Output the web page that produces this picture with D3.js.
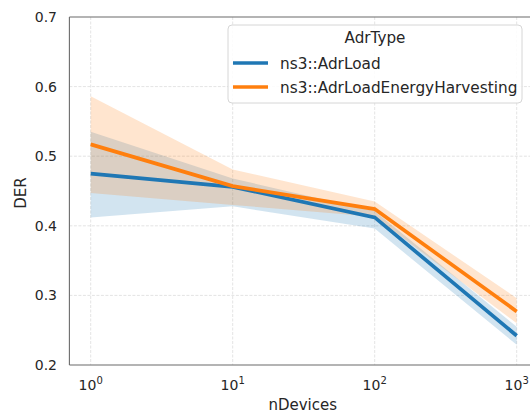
<!DOCTYPE html>
<html>
<head>
<meta charset="utf-8">
<script src="https://cdn.jsdelivr.net/npm/d3@7"></script>
<style>
  body { margin: 0; background: #fff; }
  svg { display: block; font-family: "DejaVu Sans", sans-serif; }
</style>
</head>
<body>
<svg id="chart" width="530" height="414"></svg>
<script>
// data
const nDevices = [1, 10, 100, 1000];
const seriesNames = ["ns3::AdrLoad", "ns3::AdrLoadEnergyHarvesting"];
const adrLoadMean = [0.475, 0.456, 0.412, 0.242];
const adrLoadLow  = [0.412, 0.428, 0.396, 0.229];
const adrLoadHigh = [0.535, 0.468, 0.421, 0.255];
const adrEhMean = [0.517, 0.457, 0.424, 0.277];
const adrEhLow  = [0.447, 0.430, 0.413, 0.260];
const adrEhHigh = [0.586, 0.481, 0.435, 0.296];
const yTicks = [0.2, 0.3, 0.4, 0.5, 0.6, 0.7];
const xTicks = [1, 10, 100, 1000];
const colors = ["#1f77b4", "#ff7f0e"];

// dimensions
const plot = {left: 69.4, right: 538, top: 17, bottom: 365};

const svg = d3.select("#chart");

const x = d3.scaleLog()
  .domain([Math.pow(10, -0.15), Math.pow(10, 3.15)])
  .range([plot.left, plot.right]);
const y = d3.scaleLinear()
  .domain([0.2, 0.7])
  .range([plot.bottom, plot.top]);

svg.append("defs").append("clipPath").attr("id", "clip")
  .append("rect")
  .attr("x", plot.left).attr("y", plot.top)
  .attr("width", plot.right - plot.left).attr("height", plot.bottom - plot.top);

// grid
const grid = svg.append("g").attr("stroke", "#dcdcdc").attr("stroke-width", 0.8)
  .attr("stroke-dasharray", "3,1.5");
grid.selectAll(".gy").data(yTicks.slice(1, -1)).join("line")
  .attr("x1", plot.left).attr("x2", plot.right)
  .attr("y1", d => y(d)).attr("y2", d => y(d));
grid.selectAll(".gx").data(xTicks).join("line")
  .attr("y1", plot.top).attr("y2", plot.bottom)
  .attr("x1", d => x(d)).attr("x2", d => x(d));

// bands + lines
const series = [
  {mean: adrLoadMean, low: adrLoadLow, high: adrLoadHigh},
  {mean: adrEhMean, low: adrEhLow, high: adrEhHigh}
];
const area = d3.area()
  .x(d => x(d.n)).y0(d => y(d.lo)).y1(d => y(d.hi));
const line = d3.line()
  .x(d => x(d.n)).y(d => y(d.v));

const marks = svg.append("g").attr("clip-path", "url(#clip)");
series.forEach(function(s, i){
  const pts = nDevices.map((n, j) => ({n: n, lo: s.low[j], hi: s.high[j]}));
  marks.append("path")
    .attr("d", area(pts))
    .attr("fill", colors[i])
    .attr("fill-opacity", 0.2);
});
series.forEach(function(s, i){
  const pts = nDevices.map((n, j) => ({n: n, v: s.mean[j]}));
  marks.append("path")
    .attr("d", line(pts))
    .attr("fill", "none")
    .attr("stroke", colors[i])
    .attr("stroke-width", 3.7)
    .attr("stroke-linecap", "butt");
});

// spines
const spines = svg.append("g").attr("stroke", "#6b6b6b").attr("stroke-width", 1.1).attr("fill", "none");
spines.append("line").attr("x1", plot.left).attr("x2", plot.left).attr("y1", plot.top).attr("y2", plot.bottom);
spines.append("line").attr("x1", plot.left).attr("x2", plot.right).attr("y1", plot.bottom).attr("y2", plot.bottom);
spines.append("line").attr("x1", plot.left).attr("x2", plot.right).attr("y1", plot.top).attr("y2", plot.top);

// tick labels
const textColor = "#262626";
svg.append("g").selectAll("text").data(yTicks).join("text")
  .attr("x", 57).attr("y", d => y(d))
  .attr("dy", "0.36em")
  .attr("text-anchor", "end")
  .attr("fill", textColor)
  .style("font-size", "14px")
  .text(d => d.toFixed(1));

const xl = svg.append("g").selectAll("text").data(xTicks).join("text")
  .attr("x", d => x(d)).attr("y", 390)
  .attr("text-anchor", "middle")
  .attr("fill", textColor)
  .style("font-size", "14px");
xl.append("tspan").text("10");
xl.append("tspan").attr("dy", -6).style("font-size", "10px").text(d => Math.round(Math.log10(d)));

// axis labels
svg.append("text")
  .attr("x", (plot.left + plot.right) / 2 - 1).attr("y", 410)
  .attr("text-anchor", "middle").attr("fill", textColor)
  .style("font-size", "15px")
  .text("nDevices");
svg.append("text")
  .attr("transform", `translate(26, ${(plot.top + plot.bottom) / 2 + 2}) rotate(-90)`)
  .attr("text-anchor", "middle").attr("fill", textColor)
  .style("font-size", "15px")
  .text("DER");

// legend
const lg = svg.append("g");
lg.append("rect")
  .attr("x", 228).attr("y", 25).attr("width", 294).attr("height", 78)
  .attr("rx", 4)
  .attr("fill", "#fff").attr("fill-opacity", 0.85)
  .attr("stroke", "#d6d6d6").attr("stroke-width", 1);
lg.append("text")
  .attr("x", 375).attr("y", 43)
  .attr("text-anchor", "middle").attr("fill", textColor)
  .style("font-size", "15.2px")
  .text("AdrType");
seriesNames.forEach(function(name, i){
  const yy = 63 + i * 24;
  lg.append("line")
    .attr("x1", 233).attr("x2", 268).attr("y1", yy).attr("y2", yy)
    .attr("stroke", colors[i]).attr("stroke-width", 3.7);
  lg.append("text")
    .attr("x", 280).attr("y", yy).attr("dy", "0.36em")
    .attr("fill", textColor)
    .style("font-size", "15.3px")
    .text(name);
});
</script>
</body>
</html>
